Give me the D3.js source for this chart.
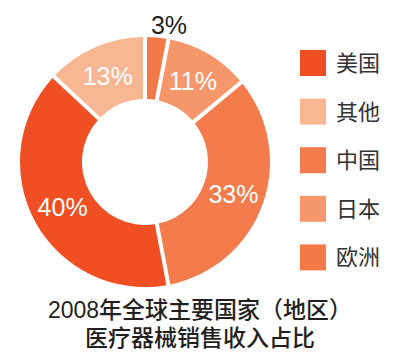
<!DOCTYPE html>
<html><head><meta charset="utf-8">
<script src="https://cdn.jsdelivr.net/npm/d3@7"></script>
<style>body{margin:0;background:#fff}svg{display:block}</style>
</head><body>
<script>
const categories = ["欧洲", "日本", "中国", "美国", "其他"];
const values = [3, 11, 33, 40, 13];
const colors = ["#F37A46", "#F5976A", "#F47C4C", "#F04E23", "#F9B692"];
const legendOrder = ["美国", "其他", "中国", "日本", "欧洲"];
const titleLines = ["2008年全球主要国家（地区）", "医疗器械销售收入占比"];

const W = 397, H = 358;
const cx = 145, cy = 162, rOut = 125, rIn = 63;
const svg = d3.select("body").append("svg").attr("width", W).attr("height", H);
const color = d3.scaleOrdinal().domain(categories).range(colors);
const data = categories.map((c, i) => ({cat: c, v: values[i]}));
const pie = d3.pie().value(d => d.v).sort(null);
const arcs = pie(data);
const padR = Math.sqrt(rOut * rOut + rIn * rIn);
const arc = d3.arc().innerRadius(rIn).outerRadius(rOut).padRadius(padR).padAngle(4 / padR);
const g = svg.append("g").attr("transform", `translate(${cx},${cy})`);
g.selectAll("path").data(arcs).join("path").attr("d", arc).attr("fill", d => color(d.data.cat));

const labelArc = d3.arc().innerRadius(94).outerRadius(94);
const outArc = d3.arc().innerRadius(138).outerRadius(138);
g.selectAll("text.lbl").data(arcs).join("text").attr("class", "lbl")
  .attr("transform", d => {
    if (d.data.v < 5) { const [x, y] = outArc.centroid(d); return `translate(${x + 11},${y})`; }
    const [x, y] = labelArc.centroid(d); return `translate(${x},${y})`;
  })
  .attr("text-anchor", "middle").attr("dy", "0.36em")
  .attr("font-family", "Liberation Sans, Arial, sans-serif").attr("font-size", 25)
  .attr("fill", d => d.data.v < 5 ? "#231f20" : "#fff")
  .text(d => d.data.v + "%");

const lg = svg.append("g");
const ly = d3.scaleBand().domain(legendOrder).range([50, 293]).paddingInner(0);
legendOrder.forEach(c => {
  const y = ly(c);
  lg.append("rect").attr("x", 300).attr("y", y).attr("width", 26).attr("height", 26).attr("fill", color(c));
  lg.append("text").attr("x", 336).attr("y", y + 13).attr("dy", "0.36em")
    .attr("font-family", "Noto Sans CJK SC, sans-serif").attr("font-size", 22).attr("fill", "#333")
    .text(c);
});

svg.selectAll("text.title").data(titleLines).join("text").attr("class", "title")
  .attr("x", 200).attr("y", (d, i) => 318 + i * 28)
  .attr("text-anchor", "middle")
  .attr("font-family", "Liberation Sans, Noto Sans CJK SC, sans-serif").attr("font-size", 23).attr("font-weight", 500)
  .attr("fill", "#231f20").text(d => d);
</script>
</body></html>
